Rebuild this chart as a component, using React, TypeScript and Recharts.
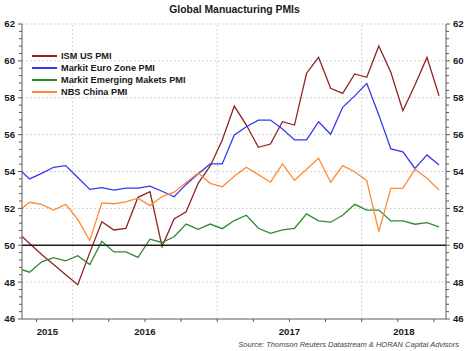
import React from 'react';
import { LineChart, Line, XAxis, YAxis, ReferenceLine } from 'recharts';

const months = [
  '2015-08', '2015-09', '2015-10', '2015-11', '2015-12',
  '2016-01', '2016-02', '2016-03', '2016-04', '2016-05', '2016-06',
  '2016-07', '2016-08', '2016-09', '2016-10', '2016-11', '2016-12',
  '2017-01', '2017-02', '2017-03', '2017-04', '2017-05', '2017-06',
  '2017-07', '2017-08', '2017-09', '2017-10', '2017-11', '2017-12',
  '2018-01', '2018-02', '2018-03', '2018-04', '2018-05', '2018-06', '2018-07',
];

const ismUS = [
  50.7, 50.1, 49.5, 48.95, 48.4,
  47.86, 49.6, 51.28, 50.83, 50.92, 52.6,
  52.9, 49.93, 51.42, 51.82, 53.36, 54.3,
  55.71, 57.55, 56.52, 55.31, 55.49, 56.7,
  56.52, 59.33, 60.19, 58.51, 58.24, 59.29,
  59.11, 60.81, 59.38, 57.3, 58.69, 60.19, 58.11,
];

const euroZone = [
  54.2, 53.6, 53.9, 54.23, 54.32,
  53.67, 53.03, 53.13, 52.99, 53.1, 53.1,
  53.21, 52.93, 52.63, 53.3, 53.88, 54.41,
  54.41, 55.98, 56.43, 56.79, 56.79, 56.3,
  55.71, 55.71, 56.7, 56.02, 57.48, 58.1,
  58.78, 57.07, 55.22, 55.07, 54.17, 54.9, 54.35,
];

const emergingMkts = [
  48.75, 48.54, 49.1, 49.33, 49.15,
  49.43, 48.95, 50.22, 49.64, 49.64, 49.34,
  50.33, 50.15, 50.46, 51.15, 50.86, 51.15,
  50.9, 51.34, 51.63, 50.92, 50.65, 50.83,
  50.92, 51.7, 51.32, 51.25, 51.63, 52.22,
  51.91, 51.91, 51.32, 51.32, 51.14, 51.23, 51.0,
];

const nbsChina = [
  51.8, 52.33, 52.22, 51.91, 52.22,
  51.4, 50.26, 52.3, 52.25, 52.35, 52.55,
  52.15, 52.64, 52.88, 53.4, 53.92, 53.36,
  53.17, 53.74, 54.23, 53.83, 53.42, 54.41,
  53.52, 54.12, 54.72, 53.42, 54.32, 53.99,
  53.5, 50.74, 53.09, 53.09, 54.12, 53.63, 53.0,
];

const seriesNames = ['ISM US PMI', 'Markit Euro Zone PMI', 'Markit Emerging Makets PMI', 'NBS China PMI'];
const seriesKeys = ['ism', 'euro', 'em', 'china'];
const seriesColors = ['#8f2424', '#3535f5', '#2f8a2f', '#ff8a30'];

const yTickLabels = [46, 48, 50, 52, 54, 56, 58, 60, 62];
const yearLabels = ['2015', '2016', '2017', '2018'];
const yearBoundaries = [12, 24, 36]; // months since Jan 2015
const quarterTicks = [9, 12, 15, 18, 21, 24, 27, 30, 33, 36, 39, 42];

const X_DOMAIN: [number, number] = [7.79, 43.0];
const Y_DOMAIN: [number, number] = [46, 62];

const monthPos = (m: string) => {
  const [y, mo] = m.split('-').map(Number);
  return (y - 2015) * 12 + (mo - 1) + 0.42;
};

const data = months.map((m, i) => ({
  t: monthPos(m),
  ism: ismUS[i],
  euro: euroZone[i],
  em: emergingMkts[i],
  china: nbsChina[i],
}));

// minor y ticks every 0.4
const yMinorTicks: number[] = [];
for (let i = 0; i <= 40; i++) yMinorTicks.push(Math.round((46 + i * 0.4) * 10) / 10);

// year label positions: center of visible part of each year
const yearLabelPos = yearLabels.map((yl) => {
  const start = (Number(yl) - 2015) * 12;
  const a = Math.max(start, X_DOMAIN[0]);
  const b = Math.min(start + 12, X_DOMAIN[1]);
  return (a + b) / 2;
});

const xTicks = Array.from(new Set([...quarterTicks, ...yearLabelPos])).sort((a, b) => a - b);

const FONT = '"Liberation Sans", Arial, sans-serif';
const AXIS_COLOR = '#5a5a5a';
const TEXT_COLOR = '#1a1a1a';

const YTick = (props: any) => {
  const { x, y, payload, side } = props;
  const v = payload.value;
  const major = yTickLabels.some((t) => Math.abs(t - v) < 1e-6);
  const dir = side === 'left' ? -1 : 1;
  const len = major ? 4 : 3;
  return (
    <g>
      <line x1={x} y1={y} x2={x + dir * len} y2={y} stroke={AXIS_COLOR} strokeWidth={1} />
      {major && (
        <text
          x={x + dir * 7}
          y={y}
          dy="0.36em"
          textAnchor={side === 'left' ? 'end' : 'start'}
          fontFamily={FONT}
          fontWeight="bold"
          fontSize={9.6}
          fill={TEXT_COLOR}
        >
          {v}
        </text>
      )}
    </g>
  );
};

const XTick = (props: any) => {
  const { x, y, payload } = props;
  const v = payload.value;
  const isQuarter = quarterTicks.some((q) => Math.abs(q - v) < 1e-6);
  const li = yearLabelPos.findIndex((p) => Math.abs(p - v) < 1e-6);
  return (
    <g>
      {isQuarter && <line x1={x} y1={y} x2={x} y2={y + 3} stroke={AXIS_COLOR} strokeWidth={1} />}
      {li >= 0 && (
        <text
          x={x}
          y={y + 15.5}
          textAnchor="middle"
          fontFamily={FONT}
          fontWeight="bold"
          fontSize={9.6}
          fill={TEXT_COLOR}
        >
          {yearLabels[li]}
        </text>
      )}
    </g>
  );
};

const gridValues = [48, 52, 54, 56, 58, 60, 62];

export default function App() {
  return (
    <div
      style={{
        position: 'absolute',
        left: 0,
        top: 0,
        width: 469,
        height: 351,
        background: '#ffffff',
        fontFamily: FONT,
        overflow: 'hidden',
      }}
    >
      <LineChart
        width={469}
        height={351}
        data={data}
        margin={{ top: 24, right: 0, bottom: 0, left: 0 }}
      >
        <XAxis
          dataKey="t"
          type="number"
          domain={X_DOMAIN}
          allowDataOverflow
          ticks={xTicks}
          interval={0}
          tickLine={false}
          tickSize={0}
          tickMargin={0}
          height={32}
          axisLine={{ stroke: AXIS_COLOR, strokeWidth: 1 }}
          tick={(p: any) => <XTick {...p} />}
        />
        <YAxis
          yAxisId="left"
          orientation="left"
          width={22}
          type="number"
          domain={Y_DOMAIN}
          allowDataOverflow
          ticks={yMinorTicks}
          interval={0}
          tickLine={false}
          tickSize={0}
          tickMargin={0}
          axisLine={{ stroke: AXIS_COLOR, strokeWidth: 1 }}
          tick={(p: any) => <YTick {...p} side="left" />}
        />
        <YAxis
          yAxisId="right"
          orientation="right"
          width={23}
          type="number"
          domain={Y_DOMAIN}
          allowDataOverflow
          ticks={yMinorTicks}
          interval={0}
          tickLine={false}
          tickSize={0}
          tickMargin={0}
          axisLine={{ stroke: AXIS_COLOR, strokeWidth: 1 }}
          tick={(p: any) => <YTick {...p} side="right" />}
        />
        {gridValues.map((g) => (
          <ReferenceLine
            key={'h' + g}
            yAxisId="left"
            y={g}
            stroke="#d4d4d4"
            strokeDasharray="2 2"
            strokeWidth={1}
          />
        ))}
        {yearBoundaries.map((b) => (
          <ReferenceLine
            key={'v' + b}
            yAxisId="left"
            x={b}
            stroke="#d4d4d4"
            strokeDasharray="2 2"
            strokeWidth={1}
          />
        ))}
        {seriesKeys.map((k, i) => (
          <Line
            key={k}
            yAxisId="left"
            type="linear"
            dataKey={k}
            name={seriesNames[i]}
            stroke={seriesColors[i]}
            strokeWidth={1.3}
            dot={false}
            activeDot={false}
            isAnimationActive={false}
          />
        ))}
        <ReferenceLine yAxisId="left" y={50} stroke="#1e1e1e" strokeWidth={1.5} />
      </LineChart>

      <div
        style={{
          position: 'absolute',
          left: 0,
          top: 3,
          width: 469,
          textAlign: 'center',
          fontFamily: FONT,
          fontWeight: 'bold',
          fontSize: 10.4,
          lineHeight: '14px',
          color: TEXT_COLOR,
        }}
      >
        Global Manuacturing PMIs
      </div>

      {seriesNames.map((n, i) => (
        <div
          key={n}
          style={{
            position: 'absolute',
            left: 32,
            top: 49.5 + i * 12.25,
            height: 12,
            display: 'flex',
            alignItems: 'center',
            whiteSpace: 'nowrap',
          }}
        >
          <span style={{ display: 'inline-block', width: 25, height: 2, background: seriesColors[i] }} />
          <span
            style={{
              marginLeft: 4,
              fontFamily: FONT,
              fontWeight: 'bold',
              fontSize: 9.2,
              color: TEXT_COLOR,
            }}
          >
            {n}
          </span>
        </div>
      ))}

      <div
        style={{
          position: 'absolute',
          right: 10,
          top: 339,
          fontFamily: FONT,
          fontStyle: 'italic',
          fontSize: 7.5,
          lineHeight: '11px',
          color: '#404050',
          whiteSpace: 'nowrap',
        }}
      >
        Source: Thomson Reuters Datastream &amp; HORAN Capital Advisors
      </div>
    </div>
  );
}
